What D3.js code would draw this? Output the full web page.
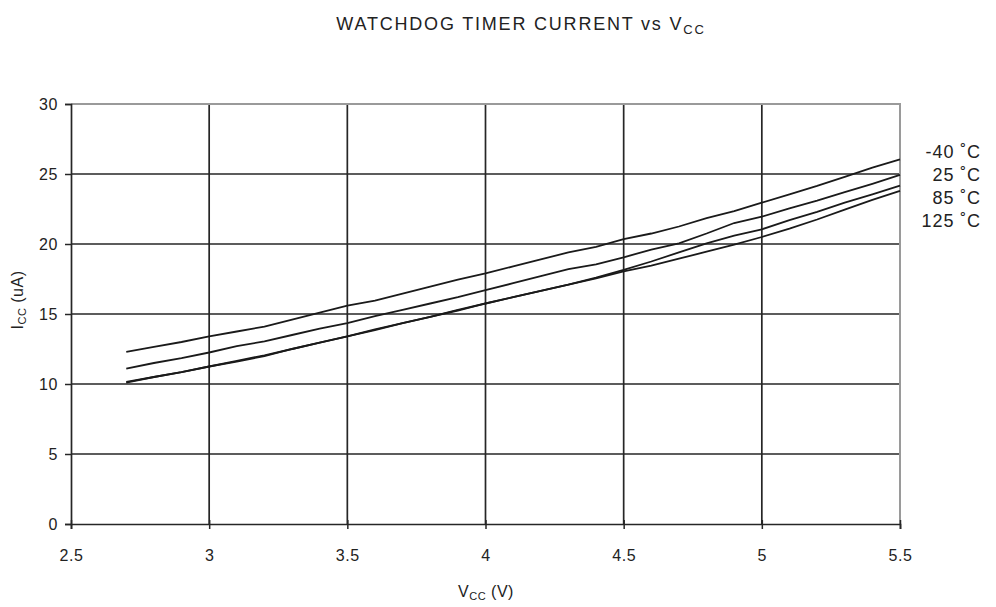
<!DOCTYPE html>
<html>
<head>
<meta charset="utf-8">
<script src="https://cdn.jsdelivr.net/npm/d3@7"></script>
<style>
  html, body { margin: 0; padding: 0; background: #fff; }
  svg { display: block; }
  text { font-family: "Liberation Sans", Arial, Helvetica, sans-serif; fill: #222; }
</style>
</head>
<body>
<svg id="chart" width="996" height="607"></svg>
<script>
// ---- data ----
const vcc = [2.7, 2.8, 2.9, 3.0, 3.1, 3.2, 3.3, 3.4, 3.5, 3.6, 3.7, 3.8, 3.9, 4.0,
             4.1, 4.2, 4.3, 4.4, 4.5, 4.6, 4.7, 4.8, 4.9, 5.0, 5.1, 5.2, 5.3, 5.4, 5.5];
const iccM40 = [12.3, 12.65, 13.0, 13.4, 13.75, 14.1, 14.6, 15.1, 15.6, 15.95, 16.45, 16.95, 17.45, 17.9,
                18.4, 18.9, 19.4, 19.8, 20.35, 20.75, 21.25, 21.85, 22.35, 22.95, 23.55, 24.15, 24.8, 25.45, 26.05];
const icc25 = [11.1, 11.5, 11.85, 12.25, 12.7, 13.05, 13.5, 13.95, 14.35, 14.85, 15.3, 15.75, 16.2, 16.7,
               17.2, 17.7, 18.2, 18.55, 19.05, 19.6, 20.05, 20.75, 21.5, 21.95, 22.55, 23.1, 23.7, 24.3, 24.93];
const icc85 = [10.15, 10.5, 10.85, 11.25, 11.65, 12.05, 12.5, 12.95, 13.4, 13.9, 14.35, 14.8, 15.25, 15.75,
               16.2, 16.65, 17.1, 17.6, 18.15, 18.75, 19.4, 20.05, 20.6, 21.05, 21.7, 22.3, 22.95, 23.55, 24.17];
const icc125 = [10.1, 10.5, 10.85, 11.25, 11.6, 12.0, 12.5, 12.95, 13.4, 13.85, 14.35, 14.8, 15.3, 15.75,
                16.2, 16.65, 17.1, 17.55, 18.05, 18.45, 18.95, 19.45, 19.95, 20.5, 21.1, 21.75, 22.45, 23.15, 23.8];
const seriesNames = ["-40 \u02DAC", "25 \u02DAC", "85 \u02DAC", "125 \u02DAC"];
const xTicks = [2.5, 3, 3.5, 4, 4.5, 5, 5.5];
const yTicks = [0, 5, 10, 15, 20, 25, 30];

const seriesValues = [iccM40, icc25, icc85, icc125];

// ---- layout ----
const svg = d3.select("#chart");
const pLeft = 71, pRight = 900, pTop = 104, pBottom = 524;
const x = d3.scaleLinear().domain([2.5, 5.5]).range([pLeft, pRight]);
const y = d3.scaleLinear().domain([0, 30]).range([pBottom, pTop]);

const gridColor = "#262626";

// horizontal gridlines
svg.append("g").selectAll("line").data(yTicks.filter(d => d > 0 && d < 30)).join("line")
  .attr("x1", pLeft).attr("x2", pRight)
  .attr("y1", d => y(d)).attr("y2", d => y(d))
  .attr("stroke", gridColor).attr("stroke-width", 1.7);

// vertical gridlines
svg.append("g").selectAll("line").data(xTicks.filter(d => d > 2.5 && d < 5.5)).join("line")
  .attr("y1", pTop).attr("y2", pBottom)
  .attr("x1", d => x(d)).attr("x2", d => x(d))
  .attr("stroke", gridColor).attr("stroke-width", 1.7);

// top & right border (gray)
svg.append("line").attr("x1", pLeft).attr("x2", pRight + 1).attr("y1", pTop).attr("y2", pTop)
  .attr("stroke", "#9a9a9a").attr("stroke-width", 2);
svg.append("line").attr("x1", pRight).attr("x2", pRight).attr("y1", pTop).attr("y2", pBottom)
  .attr("stroke", "#9a9a9a").attr("stroke-width", 2);

// axes
const xAxis = d3.axisBottom(x).tickValues(xTicks).tickFormat(d3.format("")).tickSize(5).tickPadding(20);
const gx = svg.append("g").attr("transform", `translate(0,${pBottom})`).call(xAxis);
gx.select(".domain").attr("stroke", gridColor).attr("stroke-width", 1.7);
gx.selectAll(".tick line").attr("stroke", gridColor).attr("stroke-width", 1.5).attr("y1", -4);
gx.selectAll(".tick text").attr("font-size", 16).attr("fill", "#222")
  .attr("font-family", "Liberation Sans, Arial, sans-serif").attr("letter-spacing", "0.6px")
  .attr("dy", "0").attr("y", 37);

const yAxis = d3.axisLeft(y).tickValues(yTicks).tickSize(6).tickPadding(7);
const gy = svg.append("g").attr("transform", `translate(${pLeft},0)`).call(yAxis);
gy.select(".domain").attr("stroke", gridColor).attr("stroke-width", 1.7);
gy.selectAll(".tick line").attr("stroke", gridColor).attr("stroke-width", 1.5);
gy.selectAll(".tick text").attr("font-size", 16).attr("fill", "#222")
  .attr("font-family", "Liberation Sans, Arial, sans-serif").attr("letter-spacing", "0.6px")
  .attr("dy", "0.36em");

// data lines
const line = d3.line().x((d, i) => x(vcc[i])).y(d => y(d));
svg.append("g").selectAll("path").data(seriesValues).join("path")
  .attr("d", d => line(d))
  .attr("fill", "none").attr("stroke", "#1a1a1a").attr("stroke-width", 1.8);

// legend labels
svg.append("g").selectAll("text").data(seriesNames).join("text")
  .attr("x", 981).attr("y", (d, i) => 157.5 + i * 23.3)
  .attr("text-anchor", "end").attr("font-size", 18).attr("letter-spacing", "0.9px")
  .text(d => d);

// title
const title = svg.append("text").attr("x", 521).attr("y", 30).attr("text-anchor", "middle")
  .attr("font-size", 18).attr("letter-spacing", "1.8px");
title.append("tspan").text("WATCHDOG TIMER CURRENT vs V");
title.append("tspan").attr("font-size", 13).attr("dy", 4).text("CC");

// x label
const xl = svg.append("text").attr("x", 486).attr("y", 597).attr("text-anchor", "middle")
  .attr("font-size", 16).attr("letter-spacing", "0.5px");
xl.append("tspan").text("V");
xl.append("tspan").attr("font-size", 11).attr("dy", 3).text("CC");
xl.append("tspan").attr("dy", -3).text(" (V)");

// y label
const yl = svg.append("text").attr("transform", "translate(23,300) rotate(-90)")
  .attr("text-anchor", "middle").attr("font-size", 16).attr("letter-spacing", "0.5px");
yl.append("tspan").text("I");
yl.append("tspan").attr("font-size", 11).attr("dy", 3).text("CC");
yl.append("tspan").attr("dy", -3).text(" (uA)");
</script>
</body>
</html>
